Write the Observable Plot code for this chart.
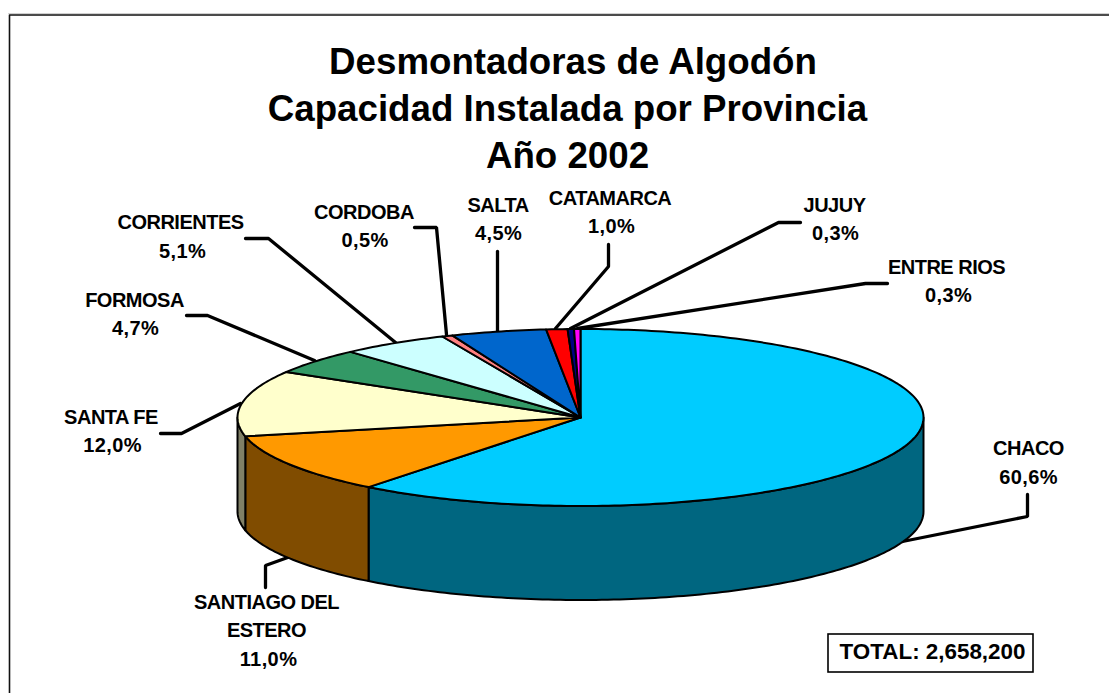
<!DOCTYPE html>
<html lang="es">
<head>
<meta charset="utf-8">
<title>Desmontadoras de Algodón</title>
<script src="https://cdn.jsdelivr.net/npm/d3@7"></script>
<script src="https://cdn.jsdelivr.net/npm/@observablehq/plot@0.6"></script>
<style>
html,body{margin:0;padding:0;background:#fff;overflow:hidden}
svg{display:block}
</style>
</head>
<body>
<div id="chart"></div>
<script>
// ---- data ----
const provinces = ["CHACO","SANTIAGO DEL ESTERO","SANTA FE","FORMOSA","CORRIENTES","CORDOBA","SALTA","CATAMARCA","JUJUY","ENTRE RIOS"];
const shares = [60.6, 11.0, 12.0, 4.7, 5.1, 0.5, 4.5, 1.0, 0.3, 0.3];
const topColors = ["#00CCFF","#FF9900","#FFFFCC","#339966","#CCFFFF","#FF8080","#0066CC","#FF0000","#000080","#FF00FF"];
const sideColors = ["#006680","#804C00","#808066","#1A4D33","#668080","#804040","#003366","#800000","#000040","#800080"];
const titleLines = ["Desmontadoras de Algodón","Capacidad Instalada por Provincia","Año 2002"];
const totalLabel = "TOTAL: 2,658,200";

// ---- layout (chart-space annotation positions) ----
const pie = {cx:580, cy:417, rx:343, ry:88.5, depth:94};
const titlePos = [[572.5,62],[567,109],[567,156]];
const labelLines = [["CHACO"],["SANTIAGO DEL","ESTERO"],["SANTA FE"],["FORMOSA"],["CORRIENTES"],["CORDOBA"],["SALTA"],["CATAMARCA"],["JUJUY"],["ENTRE RIOS"]];
const labelPos = [
  [[1028,448],[1028,477]],
  [[266,602],[266,630],[268,659]],
  [[110.5,417],[112,445]],
  [[134,300],[135,328]],
  [[180,222],[182,251]],
  [[363.5,212],[364.5,240]],
  [[497.5,205],[498,233]],
  [[609.5,198],[611,226]],
  [[834,205],[835,233]],
  [[946,267],[948,295]]
];
const leaderPaths = [
  [[902,541],[1027,516],[1027,494]],
  [[290,556],[265,565],[265,587]],
  [[240,403],[181,433],[160,433]],
  [[314,360],[207,315],[186,315]],
  [[395,342],[268,238],[245,238]],
  [[446,334],[436,227],[414,227]],
  [[497,332],[497,251]],
  [[555,328],[608,266],[608,244]],
  [[570,328],[778,222],[800,222]],
  [[577,328],[865,283],[887,283]]
];
const totalBox = {x1:828, x2:1033, y1:634, y2:672, tx:932, ty:651};

// ---- build slices from the values ----
const sum = d3.sum(shares);
const px = t => pie.cx + pie.rx * Math.sin(t);
const py = (t, dz = 0) => pie.cy - pie.ry * Math.cos(t) + dz;
const arc = (a, b) => {
  const n = Math.max(2, Math.ceil((b - a) / (Math.PI / 180)));
  return d3.range(n + 1).map(i => a + (b - a) * i / n);
};
let acc = 0;
const angles = shares.map(v => {
  const a = acc / sum * 2 * Math.PI;
  acc += v;
  return [a, acc / sum * 2 * Math.PI];
});
const topPts = [];
const sidePts = [];
angles.forEach(([a, b], i) => {
  [[pie.cx, pie.cy], ...arc(a, b).map(t => [px(t), py(t)]), [pie.cx, pie.cy]]
    .forEach(([x, y]) => topPts.push({x, y, id: provinces[i], c: topColors[i]}));
  const s = Math.max(a, Math.PI / 2), e = Math.min(b, 3 * Math.PI / 2);
  if (s < e) {
    const ts = arc(s, e);
    [...ts.map(t => [px(t), py(t)]), ...ts.slice().reverse().map(t => [px(t), py(t, pie.depth)]), [px(s), py(s)]]
      .forEach(([x, y]) => sidePts.push({x, y, id: provinces[i], c: sideColors[i]}));
  }
});
const leaders = leaderPaths.flatMap((p, i) => p.map(([x, y]) => ({x, y, id: provinces[i]})));
const pct = v => v.toFixed(1).replace(".", ",") + "%";
const nameRows = provinces.flatMap((_, i) =>
  labelLines[i].map((text, j) => ({text, x: labelPos[i][j][0], y: labelPos[i][j][1]})));
const shareRows = provinces.map((_, i) => {
  const p = labelPos[i][labelLines[i].length];
  return {text: pct(shares[i]), x: p[0], y: p[1]};
});
const titles = titleLines.map((text, i) => ({text, x: titlePos[i][0], y: titlePos[i][1]}));

const font = "'Liberation Sans', Arial, sans-serif";
const chart = Plot.plot({
  width: 1109, height: 693,
  marginTop: 0, marginRight: 0, marginBottom: 0, marginLeft: 0,
  x: {domain: [0, 1109], range: [0, 1109], axis: null},
  y: {domain: [0, 693], range: [0, 693], axis: null},
  color: {type: "identity"},
  style: {background: "#fff", fontFamily: font},
  marks: [
    // frame: top and left rules only, the rest is cropped away
    Plot.line([{x:8,y:13},{x:1109,y:13}], {x:"x", y:"y", stroke:"#d0d0d0", strokeWidth:1}),
    Plot.line([{x:1109,y:14.5},{x:9,y:14.5},{x:9,y:693}], {x:"x", y:"y", stroke:"#111", strokeWidth:1.6}),
    // leaders
    Plot.line(leaders, {x:"x", y:"y", z:"id", stroke:"#000", strokeWidth:3.3, strokeLinejoin:"miter"}),
    // pie walls and top
    Plot.line(sidePts, {x:"x", y:"y", z:"id", fill:"c", stroke:"#000", strokeWidth:2, strokeLinejoin:"round"}),
    Plot.line(topPts, {x:"x", y:"y", z:"id", fill:"c", stroke:"#000", strokeWidth:2, strokeLinejoin:"round"}),
    // text
    Plot.text(titles, {x:"x", y:"y", text:"text", fontSize:36.7, fontWeight:"bold", fill:"#000", lineAnchor:"middle"}),
    Plot.text(nameRows, {x:"x", y:"y", text:"text", fontSize:20, fontWeight:"bold", fill:"#000", lineAnchor:"middle"}),
    Plot.text(shareRows, {x:"x", y:"y", text:"text", fontSize:20, fontWeight:"bold", fill:"#000", lineAnchor:"middle"}),
    // total box
    Plot.rect([totalBox], {x1:"x1", x2:"x2", y1:"y1", y2:"y2", fill:"#fff", stroke:"#000", strokeWidth:1.6}),
    Plot.text([totalBox], {x:"tx", y:"ty", text:() => totalLabel, fontSize:22.4, fontWeight:"bold", fill:"#000", lineAnchor:"middle"})
  ]
});
// the reference sets province names tight and percentages slightly open
const nameSet = new Set(nameRows.map(d => d.text));
const shareSet = new Set(shareRows.map(d => d.text));
d3.select(chart).selectAll("text").each(function () {
  const t = this.textContent;
  if (nameSet.has(t)) this.style.letterSpacing = "-0.5px";
  else if (shareSet.has(t)) this.style.letterSpacing = "0.4px";
});
document.getElementById("chart").append(chart);
</script>
</body>
</html>
